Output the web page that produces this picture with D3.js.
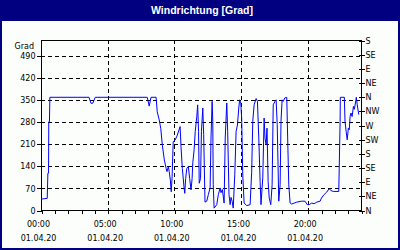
<!DOCTYPE html>
<html>
<head>
<meta charset="utf-8">
<script src="https://cdnjs.cloudflare.com/ajax/libs/d3/7.8.5/d3.min.js"></script>
<style>
  body { margin: 0; background: #fff; }
  svg { display: block; }
  .tick text { font-family: "DejaVu Sans", Verdana, sans-serif; font-size: 8px; fill: #000; }
  .lbl { font-family: "DejaVu Sans", Verdana, sans-serif; font-size: 8px; fill: #000; }
</style>
</head>
<body>
<svg id="chart" width="400" height="250"></svg>
<script>
// Windrichtung, 01.04.20 - minutes since midnight and direction in degrees
var minutes = [0, 5, 28, 31, 34, 35, 38, 40, 216, 225, 233, 244, 478, 487, 495, 518,
    523, 532, 539, 546, 555, 563, 567, 573, 577, 582, 586, 590, 593, 595, 603, 612,
    626, 630, 636, 644, 647, 651, 656, 663, 669, 675, 680, 683, 689, 694, 701, 705,
    709, 712, 718, 722, 728, 732, 738, 746, 753, 761, 765, 770, 773, 775, 779, 791,
    798, 806, 810, 816, 824, 829, 836, 840, 846, 851, 855, 860, 865, 872, 878, 884,
    890, 894, 899, 903, 908, 914, 926, 941, 948, 953, 959, 968, 974, 980, 986, 990,
    998, 1004, 1008, 1013, 1017, 1022, 1027, 1034, 1040, 1045, 1053, 1058, 1063, 1070, 1076, 1080,
    1085, 1090, 1097, 1106, 1110, 1115, 1121, 1128, 1151, 1173, 1188, 1198, 1207, 1218, 1229, 1241,
    1256, 1262, 1274, 1286, 1297, 1304, 1315, 1340, 1342, 1346, 1347, 1365, 1368, 1373, 1378, 1383,
    1387, 1391, 1395, 1400, 1406, 1410, 1415, 1419, 1423, 1430];
var direction = [37, 35, 37, 117, 117, 280, 280, 358, 358, 339, 339, 358, 358, 330, 358, 358,
    312, 286, 259, 206, 159, 132, 122, 138, 122, 95, 58, 106, 175, 217, 222, 235,
    265, 201, 132, 69, 53, 100, 132, 138, 100, 64, 100, 150, 191, 249, 296, 334,
    250, 85, 100, 250, 324, 240, 25, 28, 49, 70, 229, 345, 282, 80, 6, 17,
    49, 70, 55, 65, 22, 229, 340, 250, 49, 17, 40, 28, 6, 112, 250, 270,
    324, 350, 340, 292, 110, 22, 14, 17, 120, 282, 334, 354, 345, 229, 91, 17,
    102, 292, 229, 207, 260, 91, 38, 17, 80, 334, 345, 350, 271, 28, 80, 282,
    350, 345, 356, 358, 229, 80, 22, 19, 25, 28, 28, 17, 17, 22, 20, 25,
    28, 38, 49, 57, 68, 62, 59, 59, 133, 282, 358, 358, 282, 250, 223, 260,
    255, 297, 308, 297, 329, 320, 340, 358, 334, 303];

var gradTicks = [0, 70, 140, 210, 280, 350, 420, 490];
var compassTicks = [0, 45, 90, 135, 180, 225, 270, 315, 360, 405, 450, 495, 540];
var compassLabels = ["N", "NE", "E", "SE", "S", "SW", "W", "NW", "N", "NE", "E", "SE", "S"];
var labelMinutes = [0, 300, 600, 900, 1200];
var timeLabels = ["00:00", "05:00", "10:00", "15:00", "20:00"];
var dateLabels = ["01.04.20", "01.04.20", "01.04.20", "01.04.20", "01.04.20"];
var hourTicks = d3.range(0, 1441, 60);

var svg = d3.select("#chart"),
    width = +svg.attr("width"),
    height = +svg.attr("height");

var plotL = 41, plotR = 361, plotT = 40, plotB = 210;

// frame + title bar
svg.append("rect").attr("width", width).attr("height", height).attr("fill", "#000080");
svg.append("rect").attr("x", 2).attr("y", 21).attr("width", width - 4).attr("height", height - 23)
    .attr("fill", "#fbfefb");
svg.append("text")
    .attr("x", width / 2 + 2).attr("y", 14)
    .attr("text-anchor", "middle")
    .attr("font-family", "'Liberation Sans', Arial, sans-serif")
    .attr("font-weight", "bold")
    .attr("font-size", "10.5px")
    .attr("fill", "#fff")
    .text("Windrichtung [Grad]");

var x = d3.scaleLinear().domain([0, 1440]).range([plotL, plotR]);
var y = d3.scaleLinear().domain([0, 540]).range([plotB, plotT]);

// grid
var grid = svg.append("g").attr("shape-rendering", "crispEdges")
    .attr("stroke", "#000").attr("stroke-dasharray", "4,3");
grid.selectAll(".hg").data(gradTicks.slice(1)).enter().append("line")
    .attr("x1", plotL).attr("x2", plotR)
    .attr("y1", function(d) { return Math.round(y(d)) + 0.5; })
    .attr("y2", function(d) { return Math.round(y(d)) + 0.5; });
grid.selectAll(".vg").data(labelMinutes.slice(1)).enter().append("line")
    .attr("y1", plotT).attr("y2", plotB)
    .attr("x1", function(d) { return Math.round(x(d)) + 0.5; })
    .attr("x2", function(d) { return Math.round(x(d)) + 0.5; });

// plot border
svg.append("rect")
    .attr("x", plotL + 0.5).attr("y", plotT + 0.5)
    .attr("width", plotR - plotL).attr("height", plotB - plotT)
    .attr("fill", "none").attr("stroke", "#000")
    .attr("shape-rendering", "crispEdges");

// axes
var yLeft = svg.append("g")
    .attr("transform", "translate(" + (plotL + 0.5) + ",0.5)")
    .call(d3.axisLeft(y).tickValues(gradTicks).tickSize(5).tickPadding(1));
yLeft.select(".domain").remove();

var yRight = svg.append("g")
    .attr("transform", "translate(" + (plotR + 0.5) + ",0.5)")
    .call(d3.axisRight(y).tickValues(compassTicks).tickSize(3).tickPadding(1)
        .tickFormat(function(d, i) { return compassLabels[i]; }));
yRight.select(".domain").remove();
yRight.selectAll(".tick line").attr("x1", -3);

var xAxis = svg.append("g")
    .attr("transform", "translate(0.5," + (plotB + 0.5) + ")")
    .call(d3.axisBottom(x).tickValues(hourTicks).tickSize(3).tickFormat(""));
xAxis.select(".domain").remove();
svg.selectAll(".tick line").attr("shape-rendering", "crispEdges");

svg.append("text").attr("class", "lbl")
    .attr("x", 34).attr("y", 49).attr("text-anchor", "end").text("Grad");

var xl = svg.append("g").selectAll("g").data(labelMinutes).enter().append("g")
    .attr("transform", function(d) { return "translate(" + (x(d) - 2.5) + ",0)"; });
xl.append("text").attr("class", "lbl").attr("y", 227).attr("text-anchor", "middle")
    .text(function(d, i) { return timeLabels[i]; });
xl.append("text").attr("class", "lbl").attr("y", 241).attr("text-anchor", "middle")
    .text(function(d, i) { return dateLabels[i]; });

// wind direction line
var line = d3.line()
    .x(function(d, i) { return x(minutes[i]); })
    .y(function(d) { return y(d); });

svg.append("path")
    .datum(direction)
    .attr("fill", "none")
    .attr("stroke", "#0000ff")
    .attr("stroke-width", 1)
    .attr("d", line);
</script>
</body>
</html>
